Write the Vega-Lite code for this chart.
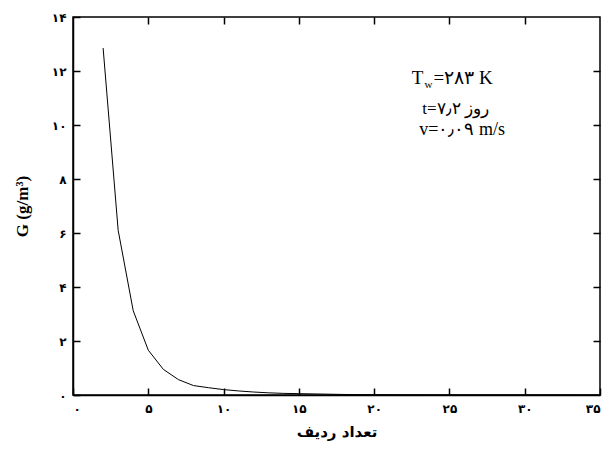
{
  "$schema": "https://vega.github.io/schema/vega-lite/v6.json",
  "width": 527,
  "height": 378,
  "autosize": "none",
  "padding": {"left": 73, "top": 17, "right": 16, "bottom": 54},
  "background": "white",
  "config": {
    "view": {"stroke": "black", "strokeWidth": 1.5},
    "axis": {"grid": false, "labelColor": "black", "titleColor": "black", "labelFont": "DejaVu Sans", "labelFontWeight": "bold", "labelFontSize": 12}
  },
  "datasets": {
    "curve": [
      {"n": 2, "G": 12.85}, {"n": 3, "G": 6.1}, {"n": 4, "G": 3.12}, {"n": 5, "G": 1.66},
      {"n": 6, "G": 0.95}, {"n": 7, "G": 0.57}, {"n": 8, "G": 0.35}, {"n": 9, "G": 0.27},
      {"n": 10, "G": 0.2}, {"n": 11, "G": 0.15}, {"n": 12, "G": 0.11}, {"n": 13, "G": 0.08},
      {"n": 14, "G": 0.06}, {"n": 15, "G": 0.05}, {"n": 16, "G": 0.04}, {"n": 17, "G": 0.03},
      {"n": 18, "G": 0.02}, {"n": 19, "G": 0.015}, {"n": 20, "G": 0.01}, {"n": 22, "G": 0.005},
      {"n": 25, "G": 0.002}, {"n": 30, "G": 0.001}, {"n": 35, "G": 0.0}
    ],
    "notes": [
      {"x": 22.5, "y": 11.74, "t": "T", "size": 19},
      {"x": 23.35, "y": 11.5, "t": "w", "size": 11},
      {"x": 23.95, "y": 11.74, "t": "=۲۸۳ K", "size": 19},
      {"x": 23.2, "y": 10.6, "t": "t=۷٫۲ روز", "size": 17},
      {"x": 23.0, "y": 9.8, "t": "v=۰٫۰۹ m/s", "size": 18}
    ]
  },
  "layer": [
    {
      "data": {"name": "curve"},
      "mark": {"type": "line", "color": "black", "strokeWidth": 1, "clip": true},
      "encoding": {
        "x": {"field": "n", "type": "quantitative", "scale": {"domain": [0, 35], "nice": false},
          "axis": {"values": [0, 5, 10, 15, 20, 25, 30, 35], "domainColor": "black", "domainWidth": 1.5, "ticks": true, "tickColor": "black", "tickWidth": 1.5, "tickSize": -7, "labelExpr": "['۰','۵','۱۰','۱۵','۲۰','۲۵','۳۰','۳۵'][datum.value/5]", "labelPadding": 15, "title": "تعداد ردیف", "titleFont": "DejaVu Sans", "titleFontSize": 15, "titleFontWeight": "bold", "titlePadding": 10}},
        "y": {"field": "G", "type": "quantitative", "scale": {"domain": [0, 14], "nice": false},
          "axis": {"values": [0, 2, 4, 6, 8, 10, 12, 14], "domainColor": "black", "domainWidth": 1.5, "ticks": true, "tickColor": "black", "tickWidth": 1.5, "tickSize": -7, "labelExpr": "['۰','۲','۴','۶','۸','۱۰','۱۲','۱۴'][datum.value/2]", "labelPadding": 14, "title": "G (g/m³)", "titleFont": "Liberation Serif", "titleFontSize": 17, "titleFontWeight": "bold", "titlePadding": 20}}
      }
    },
    {
      "data": {"name": "notes"},
      "mark": {"type": "text", "align": "left", "baseline": "middle", "font": "Liberation Serif", "color": "black"},
      "encoding": {
        "x": {"field": "x", "type": "quantitative", "axis": {"orient": "top", "values": [5, 10, 15, 20, 25, 30], "domain": false, "ticks": true, "tickColor": "black", "tickWidth": 1.5, "tickSize": -7, "labels": false, "title": null}},
        "y": {"field": "y", "type": "quantitative", "axis": {"orient": "right", "values": [2, 4, 6, 8, 10, 12], "domain": false, "ticks": true, "tickColor": "black", "tickWidth": 1.5, "tickSize": -7, "labels": false, "title": null}},
        "text": {"field": "t"},
        "size": {"field": "size", "type": "quantitative", "scale": null}
      }
    }
  ],
  "resolve": {"axis": {"x": "independent", "y": "independent"}}
}
